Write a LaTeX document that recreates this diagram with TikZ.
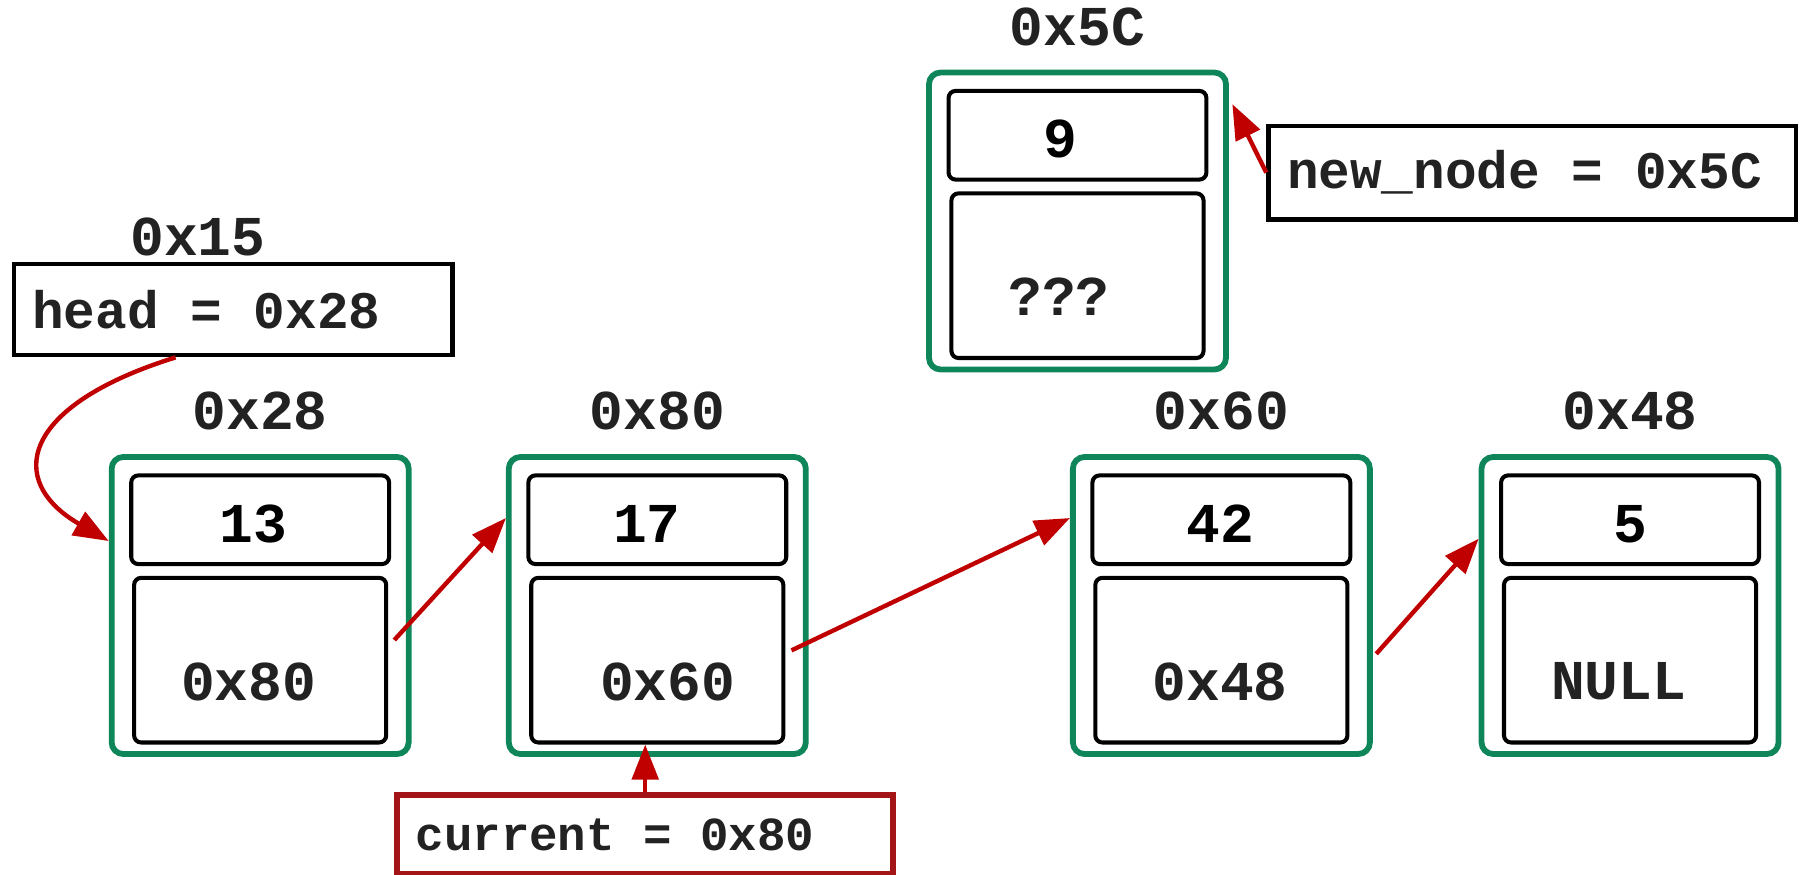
\documentclass[tikz,border=0pt]{standalone}
\usepackage{fontspec}
\usepackage{tikz}
\usetikzlibrary{math}
\usetikzlibrary{calc}
\usetikzlibrary{arrows.meta}
\usetikzlibrary{positioning}
\newfontfamily\codefont{Liberation Mono}
\definecolor{cellgreen}{RGB}{14,134,90}
\definecolor{ptrred}{RGB}{192,0,0}
\definecolor{curred}{RGB}{163,21,23}
\definecolor{addrgray}{RGB}{34,34,34}
\def\pxu{0.01151cm}
\def\codesize#1{\codefont\bfseries\fontsize{#1}{#1}\selectfont}
\def\msp{\hspace{0.6em}}

\begin{document}
\begin{tikzpicture}[x=0.01151cm, y=-0.01151cm,
  every node/.style={inner sep=0pt},
  cell/.style={draw=cellgreen, line width=1.65pt, rounded corners=3.3pt,
    minimum width=258*\pxu, minimum height=258*\pxu},
  field/.style={draw, line width=1.15pt, rounded corners=2pt},
  valfield/.style={field, minimum width=224*\pxu, minimum height=77*\pxu},
  nextfield/.style={field, minimum width=219*\pxu, minimum height=143*\pxu},
  addr/.style={text=addrgray, font=\codesize{16}},
  val/.style={text=black, font=\codesize{16}},
  ptrbox/.style={draw, line width=1.3pt, inner xsep=16*\pxu, align=left,
    text=addrgray, font=\codesize{15}},
  curbox/.style={ptrbox, draw=curred, line width=1.7pt, font=\codesize{13.5}},
  link/.style={ptrred, line width=1.25pt, -{Triangle[length=10pt, width=7.5pt]}}
]
  \useasboundingbox (0, 0) rectangle (1568, 760);

  % list cells: name/x/y/address/value/dx/next/dx
  \foreach \nm/\xc/\yc/\addr/\val/\vdx/\nxt/\ndx in {
      A/226/526/0x28/13/-6/0x80/-10,
      B/571/526/0x80/17/-9/0x60/9,
      C/1061/526/0x60/42/-1/0x48/-1,
      D/1416/526/0x48/5/0/NULL/-10,
      N/936/192/0x5C/9/-15/???/-16} {
    \node [cell] (\nm) at (\xc, \yc) {};
    \node [valfield] (\nm-valbox) at (\xc, \yc-74.5) {};
    \node [nextfield] (\nm-next) at (\xc, \yc+47.5) {};
    \node [val] (\nm-val) at (\xc+\vdx, \yc-71) {\val};
    \node [addr] (\nm-ptr) at (\xc+\ndx, \yc+66) {\nxt};
    \node [addr, above=6.5pt of \nm] (\nm-addr) {\addr};
  }

  % pointer variables
  \node [addr] (head-addr) at (172, 206) {0x15};
  \node [ptrbox, text width=349*\pxu, minimum height=79*\pxu] (head) at (202.5, 269) {head\msp=\msp0x28};
  \node [ptrbox, text width=426*\pxu, minimum height=81*\pxu] (new) at (1331, 150) {new\_node\msp=\msp0x5C};
  \node [curbox, text width=399*\pxu, minimum height=68*\pxu] (current) at (560.5, 725) {current\msp=\msp0x80};

  % links
  \draw [link] ($(head.south)+(-50, 0)$) .. controls +(-135, 42) and +(-90, -52) .. ($(A.west)+(0, -56)$);
  \draw [link] ($(A.east)+(-15, 30)$) -- ($(B.west)+(0, -76)$);
  \draw [link] ($(B.east)+(-15, 39)$) -- ($(C.west)+(0, -76)$);
  \draw [link] ($(C.east)+(3, 42)$) -- ($(D.west)+(0, -58)$);
  \draw [link] (current.north) -- (current.north |- B-next.south);
  \draw [link] (new.west) -- ($(N.north east)+(3, 30)$);
\end{tikzpicture}
\end{document}
